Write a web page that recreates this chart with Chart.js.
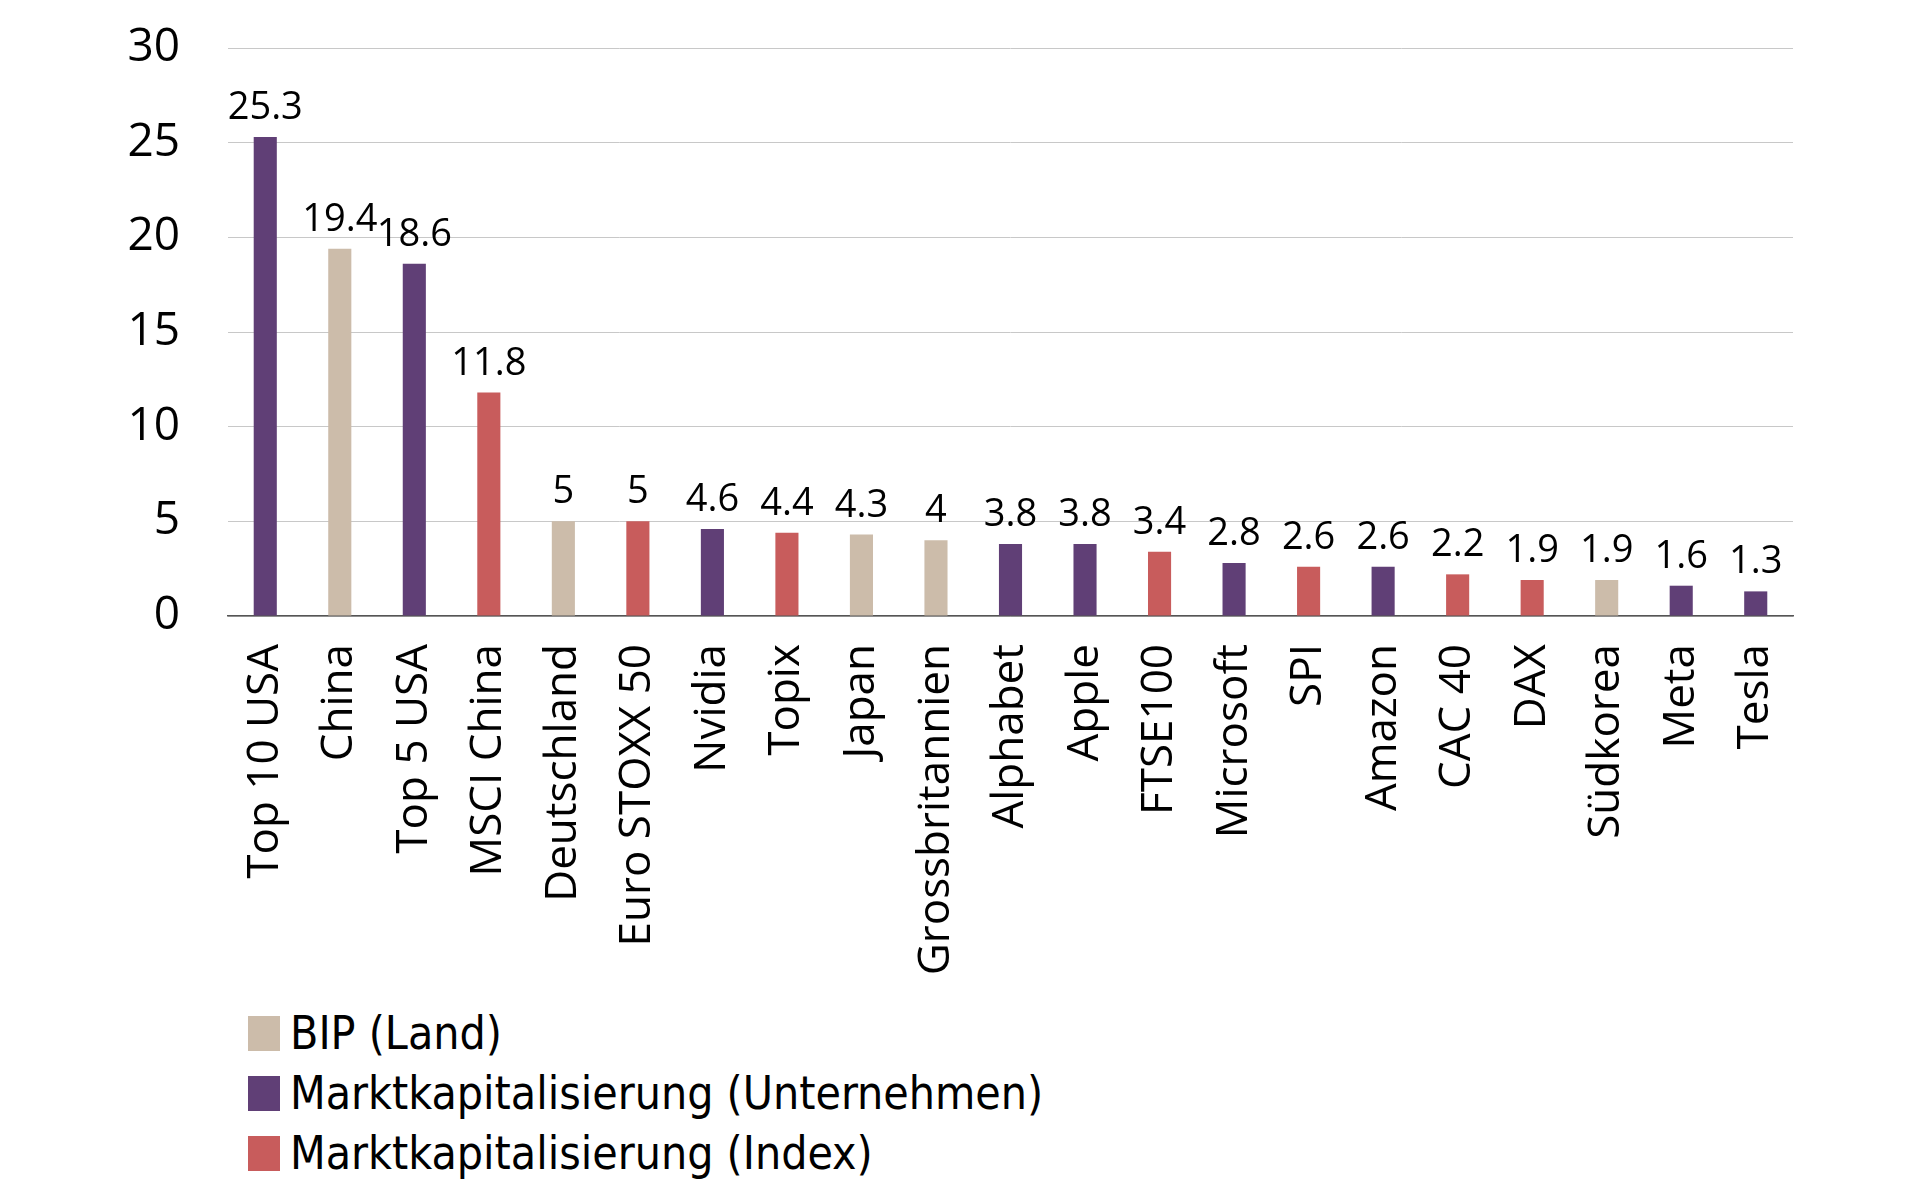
<!DOCTYPE html>
<html>
<head>
<meta charset="utf-8">
<script src="https://cdn.jsdelivr.net/npm/chart.js@4"></script>
<style>
  body { margin: 0; background: #fff; width: 1920px; height: 1199px; overflow: hidden; position: relative; }
  #wrap { position: absolute; left: 0; top: 0; width: 1920px; height: 1000px; }
  #legend { position: absolute; left: 248px; top: 1003px; font-family: "Liberation Sans Narrow", "DejaVu Sans Condensed", sans-serif; font-size: 46px; color: #000; }
  #legend div { height: 60px; display: flex; align-items: center; }
  #legend span.box { display: inline-block; width: 32px; height: 35px; margin-right: 10px; }
</style>
</head>
<body>
<div id="wrap"><canvas id="myChart" width="1920" height="1000"></canvas></div>
<div id="legend"></div>
<script>
const categories = ['Top 10 USA','China','Top 5 USA','MSCI China','Deutschland','Euro STOXX 50','Nvidia','Topix','Japan',
  'Grossbritannien','Alphabet','Apple','FTSE100','Microsoft','SPI','Amazon','CAC 40','DAX','Südkorea','Meta','Tesla'];
const values = [25.3,19.4,18.6,11.8,5,5,4.6,4.4,4.3,4,3.8,3.8,3.4,2.8,2.6,2.6,2.2,1.9,1.9,1.6,1.3];
// B = BIP (Land), U = Unternehmen, I = Index
const groups = ['U','B','U','I','B','I','U','I','B','B','U','U','I','U','I','U','I','I','B','U','U'];
const yTicks = [0,5,10,15,20,25,30];

const series = [
  { key:'B', label:'BIP (Land)', color:'#ccbcaa' },
  { key:'U', label:'Marktkapitalisierung (Unternehmen)', color:'#603f76' },
  { key:'I', label:'Marktkapitalisierung (Index)', color:'#c85c5c' }
];

const datasets = series.map(s => ({
  label: s.label,
  data: values.map((v,i) => groups[i] === s.key ? v : null),
  backgroundColor: s.color,
  borderWidth: 0,
  grouped: false,
  categoryPercentage: 1,
  barPercentage: 0.31
}));

const valueLabels = {
  id: 'valueLabels',
  afterDatasetsDraw(chart) {
    const ctx = chart.ctx;
    ctx.save();
    ctx.font = '38px "Open Sans"';
    ctx.fillStyle = '#000';
    ctx.textAlign = 'center';
    ctx.textBaseline = 'alphabetic';
    chart.data.datasets.forEach((ds, di) => {
      chart.getDatasetMeta(di).data.forEach((bar, i) => {
        if (ds.data[i] == null) return;
        ctx.fillText(String(ds.data[i]), bar.x, bar.y - 18);
      });
    });
    ctx.restore();
  }
};

const config = {
  type: 'bar',
  data: { labels: categories, datasets },
  options: {
    responsive: false,
    animation: false,
    layout: { padding: { top: 48, right: 127, left: 0, bottom: 0 } },
    plugins: { legend: { display: false }, tooltip: { enabled: false } },
    scales: {
      x: {
        grid: { display: false, drawTicks: false },
        border: { color: '#555', width: 1.5 },
        ticks: { color: '#000', font: { family: 'Open Sans', size: 44 }, minRotation: 90, maxRotation: 90, padding: 28, autoSkip: false },
        afterFit: s => { s.height = 384; }
      },
      y: {
        min: 0, max: 30,
        afterBuildTicks: s => { s.ticks = yTicks.map(v => ({ value: v })); },
        grid: { color: '#c8c8c8', lineWidth: 1, drawTicks: false },
        border: { display: false },
        ticks: { color: '#000', font: { family: 'Open Sans', size: 46 }, padding: 48 },
        afterFit: s => { s.width = 228; s.paddingTop = 0; s.paddingBottom = 0; }
      }
    }
  },
  plugins: [valueLabels]
};

const myChart = new Chart(document.getElementById('myChart'), config);

const legend = document.getElementById('legend');
series.forEach(s => {
  const row = document.createElement('div');
  row.innerHTML = '<span class="box" style="background:' + s.color + '"></span>' + s.label;
  legend.appendChild(row);
});
</script>
</body>
</html>
